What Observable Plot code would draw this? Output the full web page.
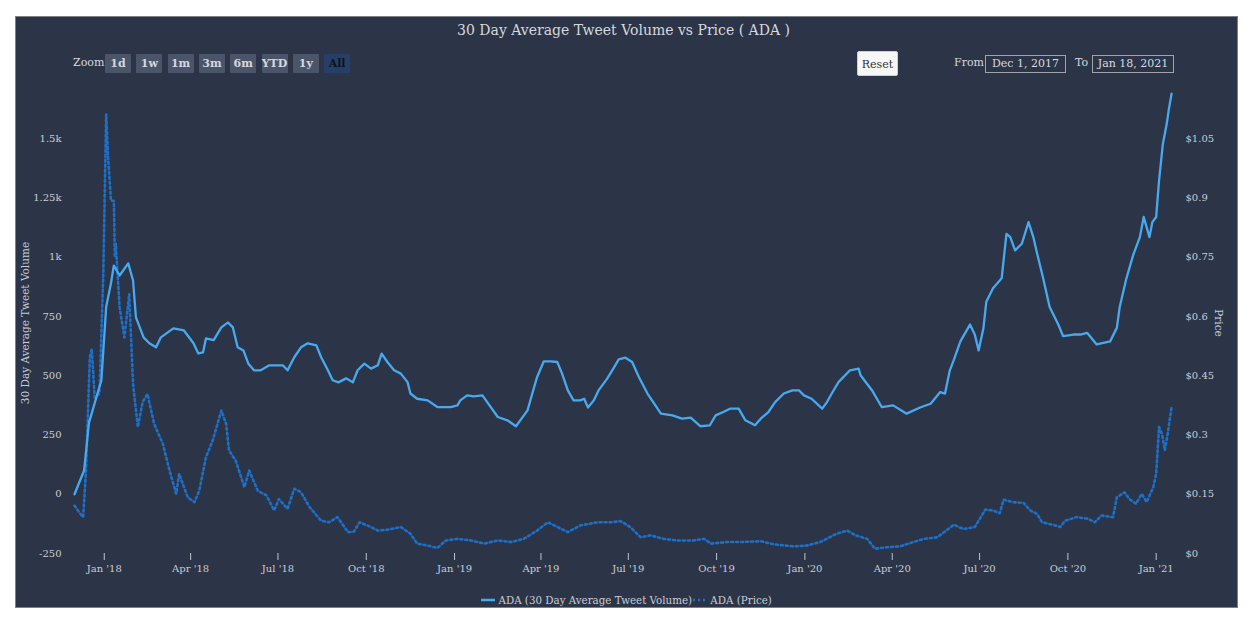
<!DOCTYPE html>
<html>
<head>
<meta charset="utf-8">
<script src="https://cdn.jsdelivr.net/npm/d3@7"></script>
<script src="https://cdn.jsdelivr.net/npm/@observablehq/plot@0.6"></script>
<style>
  html, body { margin: 0; padding: 0; background: #ffffff; }
  body { width: 1253px; height: 620px; position: relative; overflow: hidden; font-family: "DejaVu Serif", serif; }
  #panel { position: absolute; left: 15px; top: 16px; width: 1221px; height: 590px; background: #2c3548; border: 1px solid #7a7f88; }
  .abs { position: absolute; white-space: nowrap; }
  #title { left: 0; width: 1215px; top: 5px; text-align: center; font-size: 14px; color: #d6d8dc; }
  .zbtn { position: absolute; top: 37px; height: 19px; width: 26px; background: #4b5569; color: #d4d7de; font-weight: bold; font-size: 11px; line-height: 19px; text-align: center; border-radius: 1px; }
  #zoomlbl { left: 57px; top: 39px; font-size: 11px; color: #d4d7de; }
  #reset { left: 841px; top: 34px; width: 41px; height: 25px; background: #f7f7f7; border: 1px solid #cfcfcf; border-radius: 2px; color: #333; font-size: 11px; line-height: 25px; text-align: center; box-sizing: border-box; }
  .lbl { font-size: 11px; color: #d4d7de; top: 39px; }
  .box { top: 38px; height: 18px; border: 1px solid #a0a4ab; box-sizing: border-box; color: #d8dadf; font-size: 11px; line-height: 16px; text-align: center; }
  #chart { position: absolute; left: 0; top: 59px; }
  .ytitle { font-size: 10.5px; color: #c9ccd3; }
  #legend { left: 0; width: 1221px; top: 576px; text-align: center; font-size: 10.3px; color: #c9ccd3; }
</style>
</head>
<body>
<div id="panel">
  <div id="title" class="abs">30 Day Average Tweet Volume vs Price ( ADA )</div>
  <div id="zoomlbl" class="abs">Zoom</div>
  <div id="zoombtns"></div>
  <div id="reset" class="abs">Reset</div>
  <div class="abs lbl" style="left:938px">From</div>
  <div class="abs box" style="left:969px;width:81px">Dec 1, 2017</div>
  <div class="abs lbl" style="left:1059px">To</div>
  <div class="abs box" style="left:1076px;width:82px">Jan 18, 2021</div>
  <div id="chart"></div>
  <div class="abs ytitle" style="left:9px;top:306px;transform:translate(-50%,-50%) rotate(-90deg);">30 Day Average Tweet Volume</div>
  <div class="abs ytitle" style="left:1203px;top:306px;transform:translate(-50%,-50%) rotate(90deg);">Price</div>
  <div id="legend" class="abs">
    <svg width="14" height="8" style="vertical-align:middle"><line x1="0" y1="4" x2="14" y2="4" stroke="#49a9ee" stroke-width="2.5"/></svg><span style="vertical-align:middle"> ADA (30 Day Average Tweet Volume)</span><svg width="14" height="8" style="vertical-align:middle;margin-left:1px"><line x1="0" y1="4" x2="14" y2="4" stroke="#1e6fc6" stroke-width="2.5" stroke-dasharray="2,3"/></svg><span style="vertical-align:middle"> ADA (Price)</span>
  </div>
</div>
<script>
// ---- Data (day offsets from Dec 1, 2017) ----
const startDate = new Date(Date.UTC(2017, 11, 1));
const endDate = new Date(Date.UTC(2021, 0, 18));

const tweetDay = [0,10,15,25,28,33,38,41,47,56,61,64,72,78,85,90,103,114,124,129,134,137,145,153,160,165,170,176,181,187,194,203,217,222,229,236,243,252,257,264,269,275,283,290,295,302,309,316,320,326,333,340,347,350,357,368,378,392,399,402,409,416,425,430,441,451,460,472,477,482,489,496,503,508,514,520,527,531,535,541,546,555,562,567,574,581,588,597,604,611,623,633,642,652,662,668,676,683,692,699,709,715,723,730,739,748,755,760,768,779,784,789,796,808,817,819,831,841,853,867,881,892,902,907,912,916,923,933,938,942,947,950,957,966,971,975,980,987,994,999,1003,1009,1016,1025,1030,1041,1048,1055,1065,1072,1079,1086,1089,1096,1103,1110,1114,1120,1123,1127,1130,1134,1138,1140,1143];
const tweetVolume = [0,100,300,440,480,790,890,965,923,974,902,746,662,637,620,662,700,691,637,594,599,658,650,704,725,704,620,607,552,523,523,544,544,523,578,620,637,628,578,523,481,472,489,472,523,551,530,544,593,558,523,509,473,425,403,396,368,368,375,396,417,413,417,389,326,312,287,354,425,495,561,561,558,509,438,396,396,403,366,396,438,488,534,569,576,558,495,425,382,340,333,319,323,287,291,333,347,361,361,312,291,319,347,389,425,438,438,417,403,361,389,425,473,523,530,502,438,368,375,340,366,382,431,425,523,565,645,716,674,607,700,812,869,911,1099,1085,1029,1057,1148,1085,1015,916,790,716,667,674,674,681,632,639,645,702,790,911,1009,1085,1170,1085,1148,1170,1324,1479,1563,1619,1690];

const priceDay = [0,5,9,12,16,18,21,26,30,33,35,38,41,42,43,47,52,57,61,66,71,76,83,92,99,106,109,118,125,130,137,144,153,158,161,168,177,182,191,200,208,213,222,229,236,245,257,265,274,285,291,297,309,316,326,340,350,357,368,378,387,399,413,427,441,455,468,482,493,500,514,527,545,559,569,579,590,600,614,628,645,656,663,680,694,715,729,749,763,777,794,805,814,826,834,847,860,874,885,899,912,916,926,938,949,957,964,968,978,989,996,1003,1008,1022,1027,1032,1044,1056,1063,1070,1082,1086,1094,1099,1106,1112,1117,1124,1127,1130,1133,1136,1139,1143];
const priceValue = [0.121,0.104,0.092,0.21,0.497,0.518,0.395,0.404,0.708,1.112,1.003,0.893,0.893,0.75,0.784,0.623,0.547,0.657,0.429,0.32,0.383,0.404,0.328,0.278,0.21,0.151,0.202,0.142,0.13,0.159,0.244,0.286,0.362,0.328,0.261,0.235,0.168,0.21,0.159,0.147,0.109,0.138,0.113,0.164,0.155,0.117,0.083,0.079,0.092,0.054,0.055,0.079,0.067,0.058,0.06,0.067,0.05,0.025,0.02,0.014,0.033,0.037,0.033,0.025,0.033,0.029,0.037,0.058,0.079,0.071,0.054,0.071,0.079,0.079,0.082,0.067,0.041,0.046,0.037,0.033,0.033,0.037,0.025,0.029,0.029,0.031,0.023,0.018,0.02,0.029,0.05,0.058,0.046,0.037,0.012,0.016,0.018,0.029,0.037,0.041,0.065,0.073,0.062,0.067,0.111,0.109,0.102,0.136,0.13,0.128,0.109,0.1,0.079,0.071,0.067,0.083,0.092,0.088,0.079,0.096,0.092,0.142,0.155,0.138,0.126,0.151,0.13,0.168,0.202,0.32,0.303,0.261,0.303,0.37];

const volumeTicks = [-250, 0, 250, 500, 750, 1000, 1250, 1500];
const priceTicks = [0, 0.15, 0.3, 0.45, 0.6, 0.75, 0.9, 1.05];
const xTickDates = ["2018-01-01","2018-04-01","2018-07-01","2018-10-01","2019-01-01","2019-04-01","2019-07-01","2019-10-01","2020-01-01","2020-04-01","2020-07-01","2020-10-01","2021-01-01"];
const zoomLabels = ["1d","1w","1m","3m","6m","YTD","1y","All"];

// ---- Zoom buttons ----
const zb = document.getElementById("zoombtns");
zoomLabels.forEach((t, i) => {
  const b = document.createElement("div");
  b.className = "zbtn";
  b.textContent = t;
  b.style.left = (89 + i * 31.3) + "px";
  if (t === "All") { b.style.background = "#263f68"; b.style.color = "#0d1320"; }
  zb.appendChild(b);
});

// ---- Scales: price plotted against the volume axis (dual axis) ----
const volMin = -250, volMax = 1750, priceMax = 1.2;
const priceToVol = p => volMin + p * (volMax - volMin) / priceMax;
const volToPrice = v => (v - volMin) * priceMax / (volMax - volMin);

const tweetData = tweetDay.map((d, i) => ({date: d3.utcDay.offset(startDate, d), v: tweetVolume[i]}));
const priceData = priceDay.map((d, i) => ({date: d3.utcDay.offset(startDate, d), v: priceToVol(priceValue[i])}));

const fmtVol = v => v >= 1000 ? (v / 1000) + "k" : String(v);
const fmtPrice = v => "$" + (+volToPrice(v).toFixed(2));
const fmtDate = d3.utcFormat("%b '%y");

const chart = Plot.plot({
  width: 1221,
  height: 507,
  marginLeft: 58,
  marginRight: 65,
  marginTop: 3,
  marginBottom: 30,
  style: {background: "transparent", fontFamily: "DejaVu Serif", fontSize: "10px", color: "#c9ccd3", overflow: "visible"},
  x: {type: "utc", domain: [startDate, endDate], label: null},
  y: {domain: [volMin, volMax], label: null},
  marks: [
    Plot.axisX({ticks: xTickDates.map(s => new Date(s + "T00:00:00Z")), tickFormat: fmtDate, tickSize: 7, tickPadding: 4, stroke: "#c0c4cc", label: null}),
    Plot.axisY({anchor: "left", ticks: volumeTicks, tickFormat: fmtVol, tickSize: 0, tickPadding: 13, label: null}),
    Plot.axisY({anchor: "right", ticks: priceTicks.map(priceToVol), tickFormat: fmtPrice, tickSize: 0, tickPadding: 13, label: null}),
    Plot.line(priceData, {x: "date", y: "v", stroke: "#1e6fc6", strokeWidth: 2.6, strokeDasharray: "2,3"}),
    Plot.line(tweetData, {x: "date", y: "v", stroke: "#49a9ee", strokeWidth: 2.3})
  ]
});
document.getElementById("chart").appendChild(chart);
</script>
</body>
</html>
